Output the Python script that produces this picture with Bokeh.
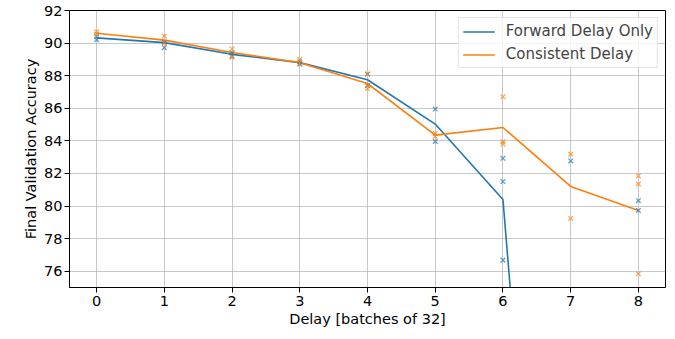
from bokeh.plotting import figure
from bokeh.models import Range1d, Legend, LegendItem, FixedTicker
from bokeh.embed import file_html
from bokeh.resources import INLINE

# Delay values (x)
delays = [0, 1, 2, 3, 4, 5, 6, 7, 8]

# Mean curves
forward_mean = [90.32, 90.03, 89.31, 88.80, 87.75, 85.03, 80.40, 30.0, 40.0]
consistent_mean = [90.60, 90.18, 89.42, 88.80, 87.52, 84.35, 84.82, 81.20, 79.72]

# Individual runs (scatter)
forward_runs_x = [0, 0, 1, 1, 2, 2, 3, 3, 4, 4, 5, 5, 6, 6, 6, 7, 8, 8]
forward_runs_y = [90.20, 90.40, 89.72, 90.05, 89.20, 89.40, 88.70, 88.85,
                  88.10, 87.40, 85.95, 83.96, 82.93, 81.50, 76.68, 82.77,
                  80.33, 79.73]
consistent_runs_x = [0, 0, 1, 1, 2, 2, 3, 3, 4, 4, 4, 5, 5, 6, 6, 6, 7, 7, 8, 8, 8]
consistent_runs_y = [90.70, 90.55, 90.42, 90.00, 89.64, 89.13, 89.00, 88.75,
                     88.10, 87.20, 87.40, 84.45, 84.27, 86.70, 83.94, 83.80,
                     83.18, 79.24, 81.85, 81.35, 75.84]

x_ticks = [0, 1, 2, 3, 4, 5, 6, 7, 8]
y_ticks = [76, 78, 80, 82, 84, 86, 88, 90, 92]

C0 = "#1f77b4"
C1 = "#ff7f0e"
FONT = "DejaVu Sans"

p = figure(width=667, height=331, output_backend="svg", toolbar_location=None,
           x_range=Range1d(-0.4, 8.4), y_range=Range1d(75, 92),
           min_border_left=69, min_border_right=2, min_border_top=10,
           min_border_bottom=44)

p.outline_line_color = "black"
p.outline_line_width = 1

for ax in (p.xaxis[0], p.yaxis[0]):
    ax.axis_line_color = "black"
    ax.major_tick_out = 5
    ax.major_tick_in = 0
    ax.minor_tick_line_color = None
    ax.major_label_text_font = FONT
    ax.major_label_text_font_size = "14.5px"
    ax.major_label_text_color = "black"
    ax.axis_label_text_font = FONT
    ax.axis_label_text_font_size = "14.5px"
    ax.axis_label_text_font_style = "normal"
    ax.axis_label_text_color = "black"

p.xaxis.ticker = FixedTicker(ticks=x_ticks)
p.yaxis.ticker = FixedTicker(ticks=y_ticks)
p.xaxis.axis_label = "Delay [batches of 32]"
p.yaxis.axis_label = "Final Validation Accuracy"
p.xaxis.major_label_standoff = 3
p.yaxis.major_label_standoff = 2
p.xaxis.axis_label_standoff = 2
p.yaxis.axis_label_standoff = 2

p.xgrid.ticker = FixedTicker(ticks=x_ticks)
p.ygrid.ticker = FixedTicker(ticks=y_ticks)
for g in (p.xgrid[0], p.ygrid[0]):
    g.grid_line_color = "#b0b0b0"
    g.grid_line_alpha = 0.7
    g.grid_line_width = 1

l1 = p.line(delays, forward_mean, line_color=C0, line_width=1.6)
l2 = p.line(delays, consistent_mean, line_color=C1, line_width=1.6)
p.scatter(forward_runs_x, forward_runs_y, marker="x", size=6.5, line_color=C0,
          line_width=1.3, line_alpha=0.7)
p.scatter(consistent_runs_x, consistent_runs_y, marker="x", size=6.5, line_color=C1,
          line_width=1.3, line_alpha=0.7)

legend = Legend(items=[LegendItem(label="Forward Delay Only", renderers=[l1]),
                       LegendItem(label="Consistent Delay", renderers=[l2])],
                location="top_right")
legend.margin = 7
legend.padding = 4
legend.spacing = 5
legend.glyph_width = 32
legend.glyph_height = 17
legend.label_height = 17
legend.label_standoff = 11
legend.label_text_font = FONT
legend.label_text_font_size = "15px"
legend.border_line_color = "#cccccc"
legend.border_line_width = 1
legend.background_fill_alpha = 0.8
p.add_layout(legend)

open("out.html", "w").write(file_html(p, INLINE))
